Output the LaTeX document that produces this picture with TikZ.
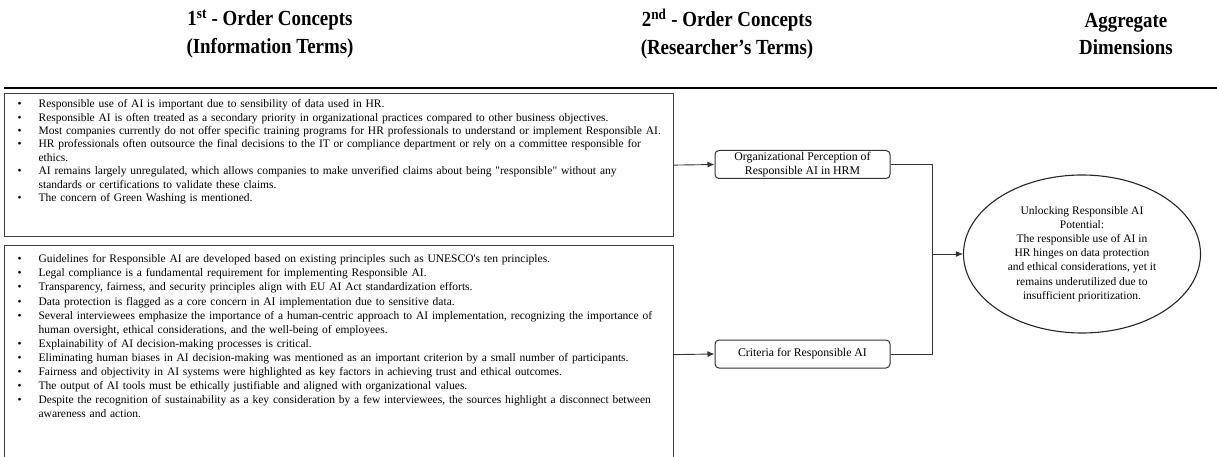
\documentclass[tikz,border=0pt]{standalone}
\usepackage{fontspec}
\setmainfont{Liberation Serif}
\newfontfamily\headfont[FakeStretch=0.88]{Liberation Serif}
\usepackage{enumitem}
\usetikzlibrary{arrows.meta,shapes.geometric}
\setlist[itemize]{label=\textbullet, leftmargin=34pt, labelsep=17pt, rightmargin=-20pt,
  topsep=0pt, partopsep=0pt, itemsep=0pt, parsep=0pt}
\tikzset{listbox/.style={draw=black!75, line width=1.2pt, anchor=north west,
           inner sep=0pt, text width=669pt, align=left,
           font=\fontsize{11.5}{13.4}\selectfont},
         concept/.style={draw=black!80, line width=1pt, rounded corners=4pt,
           minimum width=175pt, minimum height=28pt, inner sep=1pt, align=center,
           font=\fontsize{11.8}{14}\selectfont},
         dimension/.style={draw=black!85, line width=1.1pt, ellipse,
           minimum width=237pt, minimum height=158pt, inner sep=0pt, align=center,
           font=\fontsize{11.5}{14.2}\selectfont},
         heading/.style={align=center, font=\headfont\bfseries\fontsize{21.5}{27.5}\selectfont},
         link/.style={draw=black!80, line width=0.9pt},
         arr/.style={link, -{Latex[length=7pt,width=6pt]}}}

\begin{document}
\begin{tikzpicture}[x=1pt,y=-1pt]
    \useasboundingbox (0,0) rectangle (1217,457);
    \clip (0,0) rectangle (1217,457);

    \node[heading] (h1) at (270,34) {1\textsuperscript{st} - Order Concepts\\(Information Terms)};
    \node[heading] (h2) at (727,34) {2\textsuperscript{nd} - Order Concepts\\(Researcher’s Terms)};
    \node[heading] (h3) at (1126,34) {Aggregate\\Dimensions};
    \draw[line width=1.5pt] (4,88) -- (1217,88);

    \node[listbox] (first) at (4,93) {\vbox to 143pt{\vspace*{6pt}
      \begin{itemize}
        \item Responsible use of AI is important due to sensibility of data used in HR.
        \item Responsible AI is often treated as a secondary priority in organizational practices compared to other business objectives.
        \item Most companies currently do not offer specific training programs for HR professionals to understand or implement Responsible AI.
        \item HR professionals often outsource the final decisions to the IT or compliance department or rely on a committee responsible for\newline ethics.
        \item AI remains largely unregulated, which allows companies to make unverified claims about being \textquotedbl responsible\textquotedbl\ without any\newline standards or certifications to validate these claims.
        \item The concern of Green Washing is mentioned.
      \end{itemize}\vfil}};

    \node[listbox, font=\fontsize{11.5}{14.1}\selectfont] (second) at (4,245) {\vbox to 218pt{\vspace*{9pt}
      \begin{itemize}
        \item Guidelines for Responsible AI are developed based on existing principles such as UNESCO\textquotesingle s ten principles.
        \item Legal compliance is a fundamental requirement for implementing Responsible AI.
        \item Transparency, fairness, and security principles align with EU AI Act standardization efforts.
        \item Data protection is flagged as a core concern in AI implementation due to sensitive data.
        \item Several interviewees emphasize the importance of a human-centric approach to AI implementation, recognizing the importance of\newline human oversight, ethical considerations, and the well-being of employees.
        \item Explainability of AI decision-making processes is critical.
        \item Eliminating human biases in AI decision-making was mentioned as an important criterion by a small number of participants.
        \item Fairness and objectivity in AI systems were highlighted as key factors in achieving trust and ethical outcomes.
        \item The output of AI tools must be ethically justifiable and aligned with organizational values.
        \item Despite the recognition of sustainability as a key consideration by a few interviewees, the sources highlight a disconnect between\newline awareness and action.
      \end{itemize}\vfil}};

    \node[concept] (org) at (802.5,164.5) {Organizational Perception of\\Responsible AI in HRM};
    \node[concept] (crit) at (802.5,354) {Criteria for Responsible AI};
    \node[dimension] (unlock) at (1082,254) {Unlocking Responsible AI\\Potential:\\The responsible use of AI in\\HR hinges on data protection\\and ethical considerations, yet it\\remains underutilized due to\\insufficient prioritization.};

    \coordinate (join) at (932,254);
    \draw[arr] (first.east) -- (org.west);
    \draw[arr] (second.east) -- (crit.west);
    \draw[link] (org.east) -| (join) |- (crit.east);
    \draw[arr] (join) -- (unlock.west);
\end{tikzpicture}
\end{document}
